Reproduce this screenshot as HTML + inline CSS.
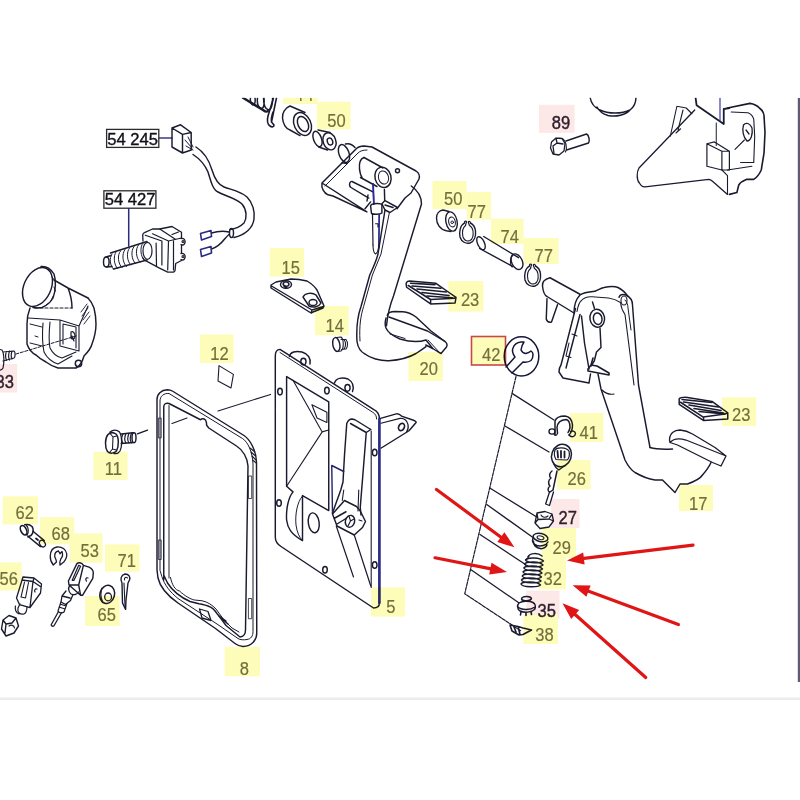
<!DOCTYPE html>
<html><head><meta charset="utf-8"><style>
html,body{margin:0;padding:0;background:#fff;width:800px;height:800px;overflow:hidden}
svg{display:block}
text{font-family:"Liberation Sans",sans-serif;font-size:19px}
</style></head><body>
<svg width="800" height="800" viewBox="0 0 800 800">
<rect width="800" height="800" fill="#fff"/>
<g fill="none" stroke="#1b1b30" stroke-width="1.45" stroke-linejoin="round" stroke-linecap="round">
<!-- connector 54 245 -->
<line x1="159" y1="138" x2="172" y2="138" stroke="#3a3a8a" stroke-width="1.5"/>
<path d="M172,128 L182.5,134.4 L182.5,153 L172,147 Z M172,128 L180.6,124.8 L191.2,132.5 L182.5,134.4 M191.2,132.5 L191.2,150 L182.5,153"/>
<path d="M185,140 L192,148 M186,146 L193,150 M188,137 L193,147" stroke-width="1"/>
<!-- cable -->
<path d="M196,147 C204,152 209,160 212,170 C215,180 219,185 224,187 C232,190 240,191 247,197 C253,203 255,212 254,219 C253,228 245,235 234,237.5"/>
<path d="M193,154.5 C200,159 205,165 208,172 C211,182 213,190 218,192 C225,196 236,198 242,204 C247,210 247,218 244,223 C240,227 234,229 230,229.5"/>
<ellipse cx="231.5" cy="233" rx="2" ry="4.5"/>
<path d="M229,232 C224,231 220,230.5 211.5,233 M229,234.5 C224,238 222,246 211.5,249" stroke-width="1.5"/>
<path d="M200.5,233.5 L211,230.5 L211.5,236.5 L201.5,240 Z M200.5,249.5 L211,246.5 L211.5,253 L201.5,256.5 Z" stroke="#2a2a80" stroke-width="1.6"/>
<!-- switch 54 427 -->
<line x1="128.7" y1="208" x2="128.7" y2="246" stroke="#2a2a80" stroke-width="1.5"/>
<ellipse cx="106.3" cy="262" rx="2.8" ry="5"/>
<path d="M106,257 L111,255.5 M106.5,267 L112,266.5 M110.5,253 L147,241.5 M113.5,269 L147,260"/>
<path d="M112,254 C109,258 110,266 113.5,269 M116,252 C113,256 114,265 117.5,268.5 M120.5,251 C117,255 118,264 122,267.5 M125,249.5 C121.5,254 122.5,263 126.5,266.5 M129.5,248 C126,252 127,262 131,265 M134,246.5 C130.5,251 131.5,260 135.5,263.5 M138.5,245 C135,249 136,258.5 140,262 M143,243 C139.5,247 140.5,257 144.5,260.5" stroke-width="1"/>
<path d="M143,241 L142.7,235 C143,233.5 143.5,233 144.5,232.7 L152.5,229 L159.75,229 L172,226.5 L181.5,232.3 L181.5,238 M181.5,245 L181.5,253 M181.5,260.5 L175.7,263.5 L175,270.8 L173.5,272.2 L167.7,272.2 L159,267.9 L144.2,259.9 L143,258" stroke-width="1.3"/>
<path d="M145.25,235.2 L161.9,241 L161.9,265 M156.1,243.2 L156.5,266 M152.5,233.8 L168.5,241 L167.7,270 M168.5,241 L175,239.5 L181.5,238 M159.75,229 L175,239 M172,234.5 L178.5,232 M173.5,241 L173.5,270" stroke-width="1.2"/>
<ellipse cx="147.5" cy="250.8" rx="4.5" ry="8.5" stroke-width="1.2"/>
<path d="M181,238.5 C184,238 185.5,240 185,242.5 C184.5,245 182.5,245.5 181,244.5 M181,253.5 C184,253 185.5,255 185,257.5 C184.5,260 182.5,260.5 181,259.5" stroke-width="1.3"/>
<circle cx="183" cy="241.5" r="1" stroke-width="1.1"/><circle cx="183" cy="256.5" r="1" stroke-width="1.1"/>
<!-- reservoir -->
<ellipse cx="37.5" cy="287" rx="13.5" ry="20.5" transform="rotate(25 37.5 287)"/>
<path d="M41,266.5 C46,266 51,269 54,274 C56,280 56,290 53,298 C50,303 46,306 42,307.5 C39,308 35,308 33,307.5"/>
<path d="M46,268 L50,271.5 M52,277 L55,281 M54,287 L55.5,291 M53,296.5 L51,300.5 M48,303.5 L45,306" stroke-width="1"/>
<path d="M54,280 L68,288 L88,298 M68,288 C70,293 72,300 72,308"/>
<path d="M35,308 L72,308" stroke-dasharray="3 2" stroke-width="1.2"/>
<path d="M30,308 C28,313 27,318 27,324 L27,344 C29,350 32,353 36,355 C39,358 42,360 46,362 C50,365 54,367 58,368 L76,368 C80,366 82,363 84,356 C88,352 91,348 92,344 C95,336 96,330 96,324 C96,317 95,312 94,308 C92,303 90,300 88,298"/>
<path d="M28,318 L60,320 L79,326 L88,306 M79,326 L79,351 M60,320 L60,346 L79,351 M63,324 L63,344 M76,327 L76,348 M63,324 L76,327" stroke-width="1.1"/>
<path d="M43,323 C42,335 43,347 44,352 C47,358 52,362 58,364 M50,322 C49,332 49,343 50,348 C53,354 57,357 62,358 M58,364 L72,356 M62,358 L76,352" stroke-width="1.1"/>
<path d="M30,324 L42,327 M35,336 L38,337 M30,343 L42,346" stroke-width="1"/>
<path d="M81,312 L87,304 M82,316 L88,308 M83,320 L89,312 M84,324 L90,316" stroke-width="0.9"/>
<path d="M71,332 C73,331 75,333 75,336 C75,339 73,340 71,338 Z M72,336 L74,341" stroke-width="1.2"/>
<circle cx="78.5" cy="363.5" r="3.2"/>
<path d="M16,354 L76,336" stroke-dasharray="3 1.6" stroke-width="1"/>
<path d="M-2,349 L2,350 C4,353 4.5,362 3,368 C2,370 0,370.5 -2,370 M3,352 L14,351 C15.5,352 15.5,357 14,358 L3,361 M6.5,351.5 C5.5,354 5.5,358 6.5,360.5 M9.5,351 C8.5,354 8.5,358 9.5,360 M12,351 C11,354 11,357 12,359" stroke-width="1.2"/>
<!-- clutch pedal plate -->
<path d="M322,183 L356,149 C358,147 361,146 364,146 L372,147 L416,171 C419,173 420,176 419,179 L411,193 L405,198 L397,208.7 M366.9,211.9 L333,196 L328,194.8 C324,193 321,188 322,183 Z"/>
<path d="M325,186 L358,153 C360,151 363,150 367,150" stroke-width="1"/>
<ellipse cx="344" cy="153.5" rx="5" ry="9.3" transform="rotate(-20 344 153.5)"/>
<path d="M345.5,144 C349,143 352,144 355,147.5 M342,162.8 L347,163.5"/>
<!-- pivot tube -->
<path d="M364,157.5 C360,159 359,164 359.5,169 C360,173 361,176 362,177.5"/>
<path d="M364,157.5 L383,168 M360.5,177.5 L377,186.5"/>
<ellipse cx="383" cy="177.3" rx="8" ry="10.3" transform="rotate(-15 383 177.3)"/>
<ellipse cx="383.5" cy="177.5" rx="5" ry="6.7" transform="rotate(-15 383.5 177.5)" stroke-width="1"/>
<circle cx="397.5" cy="170.8" r="2"/>
<!-- slot lever -->
<path d="M351,181.5 C349,183 349,186 351,187.5 L368.75,198.1 M352,181.5 L373,191.9 M365,208.75 L370.6,201.9 M367,201 L368,195"/>
<!-- hub / clevis / rod -->
<path d="M373,183.75 L373.75,203.75 M384.4,189.4 L384.7,200.6"/>
<path d="M373.2,184 L373.9,204" stroke="#2a2aa8" stroke-width="1.6"/>
<path d="M370.6,206 C371,204 374,203.5 377,203.5 C380,203.5 381.5,203.7 381.9,205 L381.9,213 C380,214.5 374,214.8 371.5,213.5 Z"/>
<path d="M372.5,214.4 L373,245 M379.4,214.4 L378.75,245 M375.6,223.75 L378,223.75 L378,227" stroke-width="1.2"/>
<path d="M379,214.5 L379,248" stroke="#2a2aa8" stroke-width="1.3"/>
<path d="M381.9,203.75 L385,200.6 L397.5,207.5 L390,212.5 L385,210 Z M385,205 L393,207.5"/>
<!-- pedal arm -->
<path d="M411.3,186 C417,190 421.5,196 421.5,204 L393.5,296 C390,305 387.5,315 386.5,325.7"/>
<path d="M385,210 L378,254 C376,262 372,270 369.75,275 L361,306.5 C358,315 356,325 357,341.5 C358,348 361,352 365,354 C370,358 380,361 389,360.7 C400,360 410,357 416,353.5 C420,351 423,349 426,346.7"/>
<path d="M389.4,212.5 L381,254 L372.4,275 L363.6,306.5 C361,315 359,325 360,341" stroke-width="1"/>
<path d="M373,245 C373,250 374,253 375.5,254 M378.75,245 C378.5,250 377.5,253 375.5,254" stroke-width="1.1"/>
<!-- pad 20 -->
<path d="M387.25,315.25 C388,313 391,311.5 395,311.5 L403,311.7 C408,312 412,314 416,317 L431,331 L445,341.5 C447,343 447.5,345 446.5,347 L441,353.5 C438,352 435,350 432.75,348.5 L425.75,345"/>
<path d="M389,317 L427.5,331 L445,341.5 M386,318 C385,322 385,326 386,328 C388,333 393,336 400,339 C410,342 420,342 426,340 L432.75,348.5" />
<path d="M390,334 L405,338.5 M428,340 L440,353" stroke-width="1"/>
<!-- pad 23 left -->
<path d="M406.6,282.4 C407,281.6 408,281.1 409.6,281.1 L435.9,283.3 L449,292.5 L456,297.3 L455.1,303 L430.6,303.9 L406.6,287.25 L406.1,283.75 Z M408.3,285.5 L430.6,299.5 L454.7,298.2 M430.6,299.5 L430.6,303.9" stroke-width="1.5"/>
<path d="M410.5,283.3 L435,284.6 M412,286 L441,288.2 M417,289 L446.4,292 M422,292.5 L449,295.5 M427,296 L452.5,297.8" stroke-width="1.6"/>
<!-- spring fragment -->
<path d="M243,97.8 L263,110 C265,111.5 267,112 268,111" stroke-width="2.4"/>
<path d="M250.5,97.8 C250,101 251,104 253,105 C255,105 255.5,101 255,97.8 M257.5,97.8 C257,102 258,107 261,108.5 C264,109 264.5,103 264,97.8 M263.5,97.8 C263.5,103 265,109 268.5,110 C271,110 273,104 272.5,97.8" stroke-width="1.5"/>
<path d="M273.5,97.8 L268,116 C267,120 267,124 270,126 C272,127.5 274,127 274,125 L271.5,122 L276.5,97.8 M271.5,122 C271,119 272,115 273,112" stroke-width="1.6"/>
<!-- large bushing -->
<path d="M290,106 C285,108 282,113 282.5,118 C283,124 286,129 290,130 L300,135.6 M290,106 L305,112.5"/>
<ellipse cx="302.5" cy="124" rx="8.3" ry="12" transform="rotate(-25 302.5 124)"/>
<ellipse cx="303" cy="124" rx="5" ry="8" transform="rotate(-25 303 124)"/>
<!-- small bushing -->
<ellipse cx="317.5" cy="139" rx="4" ry="8" transform="rotate(-20 317.5 139)"/>
<path d="M318,130 L330,132.5 M318.7,147 L327.5,150"/>
<ellipse cx="329.5" cy="141.3" rx="6.3" ry="8.8" transform="rotate(-20 329.5 141.3)"/>
<ellipse cx="330" cy="141.5" rx="2.6" ry="3.6" transform="rotate(-20 330 141.5)"/>
<!-- top label digits remnants -->
<path d="M300.8,98 L300.8,101 M310.9,98 L310.9,101" stroke="#77703f" stroke-width="1.5" stroke-linecap="butt"/>
<!-- plate 15 -->
<path d="M271,285 L276,282 L291,279 C298,279 303,280 307,281 C312,284 315,287 317,290 L324,306 L323,308 L313,312 L311,313 L271,288 Z M271.5,286 L312,310 L323.5,306.5 M311.5,311 L311.5,313"/>
<ellipse cx="286" cy="284.5" rx="5.5" ry="3.8"/>
<path d="M283,284 C284,281 288,281 289,284 C289,287 284,287 283,284 M284,286.5 L287,288" stroke-width="1.5"/>
<path d="M303,297 C305,293 312,292 316,295 L321,303 C319,307 313,308 309,306 Z"/>
<ellipse cx="313" cy="302.5" rx="4" ry="3"/>
<!-- 12 square -->
<path d="M219,365.6 L233.4,374.4 L231,388 L218,381 Z" stroke-width="1.1"/>
<!-- bolt 14 -->
<ellipse cx="336.3" cy="344.5" rx="3.5" ry="7" transform="rotate(-10 336.3 344.5)"/>
<path d="M336.5,337.5 L341,337 M337,351.5 L341,351 M341,337 C344,339 344,349 341,351 M341,339.5 L346,339.5 C348,342 348,347 346,349 L341.5,349.5 M344,339.5 C346,342 346,347 344,349" stroke-width="1.1"/>
<!-- plate 5 -->
<path d="M275.3,356 C275.3,352 277,349.5 280,349.4 L373.5,409.4 C377,411 379.4,415 379.4,419 L379.4,603 C379.4,606 377,608 373.5,608 L281,546.5 C277,544 275.3,541 275.3,537 Z"/>
<path d="M280,352.5 L372.8,412.3 C375.5,414 376.6,416 376.6,419" stroke-width="1"/>
<path d="M379.4,419 L379.4,603" stroke="#2a2a8a" stroke-width="2.6"/>
<path d="M371.2,431 L371.2,587.5" stroke-width="1.1"/>
<!-- ears -->
<path d="M289.5,356.5 C290,352 296,350.5 302,352 C308,354 311,358 310,364 M334.5,383 C336,378 342,377 348,379 C353,382 354,387 352.5,391.5"/>
<ellipse cx="303.4" cy="361.6" rx="2.6" ry="3.4"/><ellipse cx="347.5" cy="387.8" rx="2.6" ry="3.4"/>
<!-- holes -->
<ellipse cx="280" cy="391.6" rx="2.3" ry="3.3"/><ellipse cx="326.9" cy="390.6" rx="2.3" ry="3.3"/>
<ellipse cx="374.7" cy="452.5" rx="2.3" ry="3.3"/><ellipse cx="279" cy="503" rx="2.3" ry="3.3"/>
<ellipse cx="325" cy="569.7" rx="2.3" ry="3.3"/><ellipse cx="374.7" cy="565" rx="2.3" ry="3.3"/>
<!-- pocket -->
<path d="M286.6,376.6 L328.75,401.9 L328.75,510.6 L302.5,495.6 M286.6,376.6 L286.6,486.25 L293,491.9 C288,498 286,510 286.6,520 C287.5,528 291,534 302.5,540.6 L302.5,495.6"/>
<path d="M302.5,496 C297,502 295,515 296,525 C297,532 299,537 302.5,540.6" stroke-width="1"/>
<path d="M293,380.3 L322.2,431.9 L286.6,486.25 M322.2,431.9 L328.75,430" stroke-width="1.1"/>
<path d="M311.9,404.7 L326.9,412.2 L326.9,422.5 L317,418 Z" stroke-width="1.1"/>
<ellipse cx="313.75" cy="522.8" rx="5.4" ry="10" transform="rotate(-8 313.75 522.8)"/>
<!-- lever -->
<path d="M346.75,423.5 C348,420.5 350,419 352,419 L355,419.75 L370.75,429.5 M350.5,423.5 L366.25,432.5 L370.75,429.5 M346.75,423.5 L344.5,455 L343,482 L340.75,490 L332.5,513 M366.25,432.5 L360.25,507.5 L361,515"/>
<path d="M331.75,465.5 L332.5,513.5 M331.75,465.5 L343.75,471.5" stroke="#22226a" stroke-width="1.4"/>
<path d="M343.75,490 L342.25,500.5 M358.75,490 L358,511" stroke-width="1.1"/>
<path d="M332.5,514 L344.5,500.5 L356.5,506.5 L360.25,511 L365.5,521.5 L362.5,527.5 L354.25,535 L337,526 Z M334,518.5 L346,511.75 M337,524 L346,518.5"/>
<ellipse cx="350" cy="521.3" rx="4.6" ry="6" transform="rotate(15 350 521.3)"/>
<path d="M349,516 L350.5,521 L354,519 M350.5,521 L348,526 M359,520 L362,521" stroke-width="1.1"/>
<path d="M336.25,526 L353.5,577 M354.25,535 L370.75,586" stroke-width="1.2"/>
<!-- side bracket -->
<path d="M380.5,418.4 L396.25,413.9 C398,413.5 399.5,414 401.5,416.1 L413.5,420.25 C415.5,421 416.5,422 416.1,422.5 L409,430.75 L381.25,448"/>
<path d="M380.9,423.25 L400,418.4 C404,418 407,420.5 408,424.5 C408.5,427 408,430 406.5,432" stroke-width="1.2"/>
<ellipse cx="401.5" cy="427" rx="2.8" ry="3.8" transform="rotate(25 401.5 427)" stroke-width="1.7"/>
<!-- leader gasket to plate -->
<path d="M218,411 L270.6,394.4" stroke-width="1.1"/>
<!-- gasket 8 -->
<path d="M157,570 L157,399.5 C157,394 161,390 167.5,389.75 C169,389.75 171,390.2 172.75,391.25 L244,435.5 C250,439.5 256,450 256.5,462 L256.75,633 C256.75,640 252,646 243,646.5 C240,646.5 237,645 235,643.5 L215.5,628.5 L178,603 C168,596 160,587 158,578 Z"/>
<path d="M160,570 L160,401 C160,396 164,393 169,393.5 L242.5,438.5 C248,442 252.5,452 253,464 L253,631.5 C253,636 251,639 247,639.5 C244,640 240,640 238,638.5 L217,624 L178,598.5 C170,592 164.5,585 162,577 Z" stroke-width="1"/>
<path d="M163.75,580 L163.75,407 C163.75,404 166,402.5 169,403.5 L200.5,419.75 C202,418.5 204,418.7 205.5,420 C206.5,422 206.7,424 206.5,425 L208.75,428 L236.5,446 C243,450 247.5,458 248,466 L245.5,630 C245.5,634 244,636.5 240,637 L226,625.5 C222,620 219,616 217,613.5 C214,609 211,607 208,606 C205,605 202,604 199,603.75 L190,601.5 C180,597 172,590 167.5,583 L163.75,575"/>
<path d="M169,578 L169,405.5 M170.5,577.5 C172,585 175,590 179.5,591 C185,596 190,599 194.5,600 L202,600.75 C208,602 212,605 216,609 L224,620 L232,628 L239,632" stroke-width="1"/>
<path d="M158.8,418 L161.2,418 L161.2,438 L158.8,438 Z M158.8,540 L161.2,540 L161.2,559.5 L158.8,559.5 Z M248.8,476 L251.7,476 L251.7,498.5 L248.8,498.5 Z M248.8,598.5 L251.7,598.5 L251.7,618.75 L248.8,618.75 Z" stroke-width="0.8"/>
<path d="M250,448 L255,452 M251,452 L255.5,456 M252,456 L256,460 M252.5,460 L256.3,463" stroke-width="1.1"/>
<path d="M199.5,609 L208,611.5 L211,620.5 L202,618 Z" stroke-width="1.3"/>
<path d="M219,616 L226,621 M222,619 L228,624" stroke-width="1.5"/>
<path d="M172,423.5 L187,418" stroke-width="1.2"/>
<!-- bolt 11 -->
<path d="M108,434.5 C105,438 104.5,447 107.5,451.5 C110,454 114,453.5 116.5,451 C119,446 119,437 116,434 C113,432 110,432.5 108,434.5 Z" stroke-width="1.5"/>
<path d="M110.5,434 L113,437 L112.5,449 L110,452 M113,437 L116.5,436 M112.5,449 L116.5,450" stroke-width="1.1"/>
<path d="M110,432 C113,429.5 117,429.5 119.5,432 C122,436 122.5,446 120,451 C118.5,453.5 116,454 114,453.5" stroke-width="1.3"/>
<path d="M121.3,434 L133,432.8 M121.3,443.5 L133,442.5"/>
<ellipse cx="134" cy="437.7" rx="2" ry="5"/>
<path d="M123,434 C121.5,437 121.5,441 123,443.5 M126,433.6 C124.5,437 124.5,441 126,443.2 M129,433.3 C127.5,437 127.5,441 129,443 M131.5,433 C130,437 130,441 131.5,442.8" stroke-width="1.2"/>
<path d="M137.4,433.9 L147.5,430.1" stroke-width="1.4"/>
<!-- pin 62 -->
<ellipse cx="23.6" cy="530.2" rx="2.8" ry="5" transform="rotate(-25 23.6 530.2)" stroke-width="1.6"/>
<path d="M24.75,524.8 C27,524.2 30,524.5 32,526.5 C34,529 33.5,533 31,535.5 L28,536.8" stroke-width="1.6"/>
<path d="M26.5,525.5 C28.5,527.5 29,532 27,535.5" stroke-width="1.2"/>
<path d="M33,531.25 L44.25,540.6 M28.1,536.5 L40.5,546.6" stroke-width="1.4"/>
<ellipse cx="42.4" cy="543.6" rx="2.6" ry="3.6" transform="rotate(-35 42.4 543.6)" stroke-width="1.3"/>
<path d="M36,538.5 L38,540" stroke-width="1.8"/>
<!-- clip 68 -->
<path d="M53.25,565 C51,562 50,559 50.25,556 C50.5,551 53,547.5 57,547 C62,546.5 66,549.5 66.75,553.75 C67,557 65.5,560 63.75,562 L60,565 C59.5,562.5 60,560.5 60.75,559 C62.5,557 63,554 62,551.5 L60,553.75 L58.5,551 C56,551.5 54.5,554 54.75,556.75 C55.5,558.5 56.5,560 56.5,562 Z" stroke-width="1.3"/>
<!-- clevis 53 -->
<path d="M68.4,581 L76.9,563.6 C78,562.8 80.5,562.8 82,563.6 L83.4,565.3 L89,567.2 C91.5,568.5 93.3,570.5 93.3,572.8 L92.8,578.4 L82.5,595.3 L80.6,595.3 L69,585 Z M83.4,565.3 L78.7,585 L80.6,595.3 M69,585 L78.7,585" stroke-width="1.4"/>
<path d="M72.2,580.3 L78.7,565.3 L80.6,566.2 L74,580.3 Z" stroke-width="1.2"/>
<path d="M88,578 C86,577 85,579.5 86.5,581" stroke-width="1.2"/>
<path d="M69.5,586 C68,588 68.5,592 71,594 C73.5,595.5 77,594.5 78.5,592" stroke-width="1.3"/>
<path d="M66,591 L62,596 L61,602 L65.5,604.5 L70.5,600.5 L73,594.5 M62,596 L70,598" stroke-width="1.3"/>
<path d="M61,602 L58,611 C59,613 62,613.5 64,612 L67,603.5 M59,607 L65,609 M60,604 L66,606" stroke-width="1.2"/>
<path d="M58.5,611.5 L51.2,624.8 C51.5,626.3 53,626.6 54,625.8 L61.5,612.8" stroke-width="1.3"/>
<!-- clevis 56 -->
<path d="M23,577 L34,578 L41.5,584 L40.5,593 L30,607.5 L19.5,604.5 L16.5,598 Z M23,577 L22,580 L33,581.5 L34,578 M33,581.5 L41,587 M33,581.5 L30,607" stroke-width="1.3"/>
<path d="M24.5,582 L21,597 M28.5,582.5 L25.5,598 M21,597 L25.5,598" stroke-width="1.1"/>
<path d="M37,589 C35,588.5 34,590.5 35,592" stroke-width="1.2"/>
<path d="M20,604 L18,608 C17,612 20,615 24,614 C26,613 27,611 27,606.5 M15.5,606 C14.5,609 16,613 19,614" stroke-width="1.2"/>
<!-- nut -->
<path d="M3,620 L9,615.5 L16,618 L18.5,626 L14,633 L6,636 L1.5,629 Z M3,620 L6,624 L12,623 L16,618 M6,624 L5,633" stroke-width="1.4"/>
<path d="M9,626 C11,624.5 14,625 14.5,628" stroke-width="1.2"/>
<!-- washer 65 -->
<ellipse cx="107.2" cy="594.4" rx="7.3" ry="9.2" transform="rotate(15 107.2 594.4)" stroke-width="1.5"/>
<ellipse cx="108.1" cy="596.9" rx="3.4" ry="3.9" stroke-width="1.3"/>
<path d="M102,588 C100.5,592 100.5,598 102.5,601" stroke-width="1.1"/>
<!-- cotter 71 -->
<path d="M122,583 C120,579 121,575 125,574 C129,574 130.5,577 129.5,580 L128,583 L126,600 L125.6,609.4 L122.5,603 L122,583 Z" stroke-width="1.4"/>
<path d="M124.5,580 C124,577.5 126,576.5 127.5,578 M124,583 L125,606" stroke-width="1.1"/>
<!-- bushing 50 right -->
<path d="M449,211.5 L443,210 C439,210.5 436.5,214 436.5,218 C436.5,224 440,229.5 446.3,230.8 L451,231.5" stroke-width="1.4"/>
<ellipse cx="451.5" cy="221.5" rx="5.6" ry="9.8" transform="rotate(-12 451.5 221.5)" stroke-width="1.4"/>
<ellipse cx="452" cy="222" rx="3.3" ry="5" transform="rotate(-12 452 222)" stroke-width="1.1"/>
<circle cx="452.2" cy="222.3" r="1.3" stroke-width="1"/>
<!-- clip 77 -->
<path d="M464.5,223 C460,225.5 459,232 460,237 C461.5,242 466,244 470,243 C474.5,241.5 476,236 475.5,231 C475,227 473.5,224.5 470.5,223" stroke-width="1.4"/>
<path d="M465.5,225.5 C462.5,228 462,233 463,237 C464.5,240.5 467.5,241.5 470,240.5 C473,239 473.5,235 473,231 C472.5,228 471.5,226.5 469.5,225.5" stroke-width="1.1"/>
<path d="M464.5,223 C464,221.5 465.5,220.5 466.5,221.5 L465.5,225.5 M470.5,223 C470.5,221.5 469,220.8 468.2,222 L469.5,225.5" stroke-width="1.2"/>
<!-- pin 74 -->
<ellipse cx="481" cy="243.3" rx="3.4" ry="7" transform="rotate(-25 481 243.3)" stroke-width="1.4"/>
<path d="M483.7,236.5 L518.6,257.7 M479.6,248.5 L513,266.6" stroke-width="1.4"/>
<ellipse cx="517" cy="261.7" rx="5.3" ry="8.3" transform="rotate(-25 517 261.7)" stroke-width="1.4"/>
<path d="M513.5,254.5 C510,257 509.5,264 512,267" stroke-width="1.1"/>
<!-- clip 77 b -->
<path d="M529.5,266 C525,268.5 524,275 525,280 C526.5,285 531,287 535,286 C539.5,284.5 541,279 540.5,274 C540,270 538.5,267.5 535.5,266" stroke-width="1.4"/>
<path d="M530.5,268.5 C527.5,271 527,276 528,280 C529.5,283.5 532.5,284.5 535,283.5 C538,282 538.5,278 538,274 C537.5,271 536.5,269.5 534.5,268.5" stroke-width="1.1"/>
<path d="M529.5,266 C529,264.5 530.5,263.5 531.5,264.5 L530.5,268.5 M535.5,266 C535.5,264.5 534,263.8 533.2,265 L534.5,268.5" stroke-width="1.2"/>
<!-- bolt 89 -->
<path d="M551.5,142 L556,138 L562,138.5 L565,143.5 L564,151 L559,155 L553,154 L550.5,148 Z M556,138 L557,143 L553,146 M557,143 L563,144 M553,146 L554,153.5" stroke-width="1.3"/>
<path d="M562,138.5 C566,140 567.5,148 565.5,152" stroke-width="1.1"/>
<path d="M566,141 L586.5,134 M566.5,150 L588.5,143 M586.5,134 C589,135 590,141 588.5,143"/>
<!-- bowl -->
<path d="M590,97 C591,103 595,108 600,110 C608,114 622,114 630,110 C634,107 636,102 636,97 M597,107 C599,111 603,114 608,115.5 C616,117 626,115 630,110"/>
<!-- brake pedal pivot tube -->
<path d="M550,277.75 L580,294.25 M547,296.5 L574,313 M550,277.75 C545,279 542,282 542.5,286 C543,291 544,295 547,296.5" />
<path d="M547,298.75 L546.25,319 C547,322 549,322.5 551.5,322 L557.5,304.75"/>
<!-- housing -->
<path d="M574,313 C574,307 575,300 580,295 C583,292.5 588,292 595,291.25 C598,290 601,288 604,287.5 C609,286.5 614,286 618,287.5 C621,289 625,292 628,296.5"/>
<path d="M577,311.5 C578,306 579,302 581.5,300.5 C584,297.5 587,296.5 592,296.8 L608.5,298 C612,298.5 616,299.5 620.5,302.5" stroke-width="1.1"/>
<path d="M575.5,308.5 L561,365 M580,314.5 L566,368 M561,365 C559.5,367 559,370 559,372 L563,378 L589,383 L590.5,374"/>
<path d="M572,334 L577,336 M566,356 L571,357.5 M569,343 L566,356" stroke-width="1.1"/>
<path d="M581.5,316 L584.5,343 C586,352 587.5,360 589,369"/>
<path d="M592.5,302 L594.5,308.5 M600,328 L601,347.5 L596.5,352 L594.25,361 L591,366"/>
<path d="M588,369 L591,365 L597,366 L609,373 L609,375 L588,371 Z M591,365 L593,358" stroke-width="1.6"/>
<ellipse cx="597.25" cy="318.25" rx="7.3" ry="9" transform="rotate(-10 597.25 318.25)"/>
<ellipse cx="597.7" cy="318.7" rx="4.3" ry="5.8" transform="rotate(-10 597.7 318.7)"/>
<!-- arm right part -->
<path d="M619,297.25 C620,294.5 623,294 626,295 C630,297 632.5,300 632.5,305 L638.5,385 L650,447.5"/>
<path d="M620.5,302.5 C621,307 622.5,311 625,314.5 L634,385" stroke-width="1.1"/>
<path d="M625,300 C627,302 628,305 628,308 L631,330" stroke-width="1"/>
<ellipse cx="624" cy="300.5" rx="3" ry="4.5" stroke-width="1.1"/>
<!-- arm lower -->

<path d="M598,374 L601,389 L625,460 C628,466 631,470 635,472.5 C641,476 648,479 655,480 L662.5,480 L675,492.5 L680,484 L687.5,484 C693,482 700,479 702.5,475 C706,471 709,467 711,462.5"/>
<path d="M602,390 C605,393 609,395 614,394" stroke-width="1.2"/>
<path d="M650,447.5 C655,449 662,449.5 672.5,449"/>
<!-- pad 17 -->
<path d="M672.5,432.5 C675,430.5 677,430 680,430 C685,430.5 689,432 692.5,434 L715,447.5 L726,456 L721,466 L712.5,462.5 L677.5,445 L670,442.5 C669,439 670,435 672.5,432.5 Z M670,442.5 C673,439 679,438 686,440 L726,456" stroke-width="1.3"/>
<!-- pad 23 right -->
<path d="M679.2,398.75 C680,397.8 684,397.2 687.5,397.4 L712,401.4 L721.6,408.4 L727.75,412.75 L727.75,418.9 L703.7,420.6 L679.2,404.4 Z M680.5,402.25 L703.25,417.1 L725,414 L727.75,412.75 M703.5,417.1 L703.7,420.6" stroke-width="1.5"/>
<path d="M682,399.5 L712,402.5 M683.5,402 L718.5,407 M689,405 L721,410.5 M694,408.5 L723.5,413 M699,411.5 L724.5,414" stroke-width="1.6"/>
<!-- top right bracket -->
<path d="M694.7,110 L639,168 C636.5,172 636.5,180 639.4,183 C641,186 643,187 645,186.9 L708.75,179.4 C710,179.4 711,180 712.5,181.25 L727.5,194.4" stroke-width="1.3"/>
<path d="M676.9,106.25 L686.25,108 L691.9,113.75 M676.9,106.25 L670.3,136.25 M683,110 L678,130 M680.6,128.75 L676,133" stroke-width="1.1"/>
<path d="M695.6,97.8 L696.6,105.3 L723.75,124 L723.75,109 L729.4,108.1" stroke-width="1.8"/>
<path d="M720,97.8 L720,121.25" stroke="#2a2aa0" stroke-width="1.1"/>
<path d="M716.25,123 L716.25,145.6" stroke-width="1"/>
<path d="M727.5,108 L750,103.4 C754,104 757,105.5 759.4,108 C762,110 764,113 764,115.6 L765,132.5 L764,153.1 L761.25,170 C759,175 756,178 753.75,179.4 L746.25,179.4 C742,181 740,183 738.75,185 L736.9,192.5 L729.4,194.4" stroke-width="1.6"/>
<path d="M731.25,112 L748,112.8 C751,114 753,116 753.75,119.4 L754.7,136.25 L753.75,162.5 L740.6,162.5" stroke-width="1.1"/>
<path d="M706.9,143.75 L706.9,166.25 L721.9,170 L729.4,170 L729.4,151.25 L714.4,141.9 L706.9,143.75 M721.9,151.25 L729.4,151.25 M721.9,151.25 L721.9,170 M706.9,143.75 L721.9,151.25" stroke-width="1.2"/>
<path d="M743.5,125 C742,130 743,137 747,141 C751,141 753,134 752,128 C750,123 746,122 743.5,125 Z M746,130 L749,134" stroke-width="1.3"/>
<path d="M735,149.4 L744.4,140 M727.5,170 L751.9,166.25 M721.9,170 L727.5,175.6 L727.5,194.4" stroke-width="1.1"/>
<!-- wrench circle -->
<ellipse cx="521.5" cy="356.3" rx="17.3" ry="19.6" stroke="#15153a" stroke-width="1.5"/>
<path d="M506,367 L515,357 C512.5,354 512,350 513,348 C514,345 517,342.5 521,342 L524,342 C522.5,344 521.5,347 521,350 C522,352 524,353.5 526,353.5 C528,353 530,352 531,351 C532.5,352 533,353 533,354.5 C533,357 532.5,359 531,360.5 C529,362 527,362.5 523,362 L512,373" stroke="#15153a" stroke-width="1.5"/>
<!-- leader lines -->
<path d="M516,376.5 L464.75,593.75 L521,631" stroke-width="1.2" stroke-dasharray="3.5 1.2"/>
<path d="M512.4,393.6 L554,420 M505,426 L549,452 M489.75,488 L536.75,517 M486.75,504.5 L533,537.5 M480,534.5 L525.5,564.5 M471,569.75 L518.75,602.75" stroke-width="1.3"/>
<!-- clip 41 -->
<path d="M555,435 L555,421 C556,418 560,416 565,416 C569,416.5 572,420 572.5,425 C572.5,429 571,433 569,435 M557.5,433 L557,427.5 C557.5,423 561,420 566,419.6 C568.5,420 570,423.5 570,427.5 C569.5,430 568.5,432 568,432.5" stroke-width="1.5"/>
<ellipse cx="552" cy="431.5" rx="3" ry="2.6" stroke-width="1.4"/>
<path d="M554,434 C555,436 557,436 557.5,433 M569,435 C571,437.5 575,437.5 575.5,433.5 C575,431 572,430.5 570.5,431.5" stroke-width="1.3"/>
<!-- eye bolt 26 -->
<ellipse cx="561.5" cy="455.5" rx="9.8" ry="11.5" transform="rotate(20 561.5 455.5)" stroke-width="1.5"/>
<path d="M555,450 C557,447 566,447 569,451 C570,455 569,459 567,460 L556,459.5 C554.5,457 554,453 555,450 Z" stroke-width="1.2"/>
<path d="M557.5,451 L558,457.5 M561,451 L561,457.5 M564.5,451.5 L564.5,457.5" stroke-width="1.8"/>
<path d="M553.75,464 C555,467 557,469 558.75,470 L565,465.5" stroke-width="1.3"/>
<path d="M552,471 C549,473 549,477 551,478 M551,478 C548,480 548,484 550,486 M550,486 C547.5,488 547.5,491 549.5,492 M557,471 L553,490 M553,490 L550,492" stroke-width="1.5"/>
<path d="M549.5,492 L545.6,504 L549.5,505.5 L553.5,492" stroke-width="1.3"/>
<!-- nut 27 -->
<path d="M537,513 L545,511.5 L552,514 L553.5,521 L549,527 L540,528.5 L535,523 Z M535,523 L538,519.5 L549,519 L553.5,521 M538,519.5 L537,513 M549,519 L552,514" stroke-width="1.3"/>
<path d="M541,515 C542,517.5 546,518 548,516" stroke-width="1.1"/>
<!-- washer 29 -->
<ellipse cx="540.5" cy="537.5" rx="7.5" ry="4" transform="rotate(12 540.5 537.5)" stroke-width="1.5"/>
<path d="M533,538 C532,541 533,544 537,545.5 C541,546.5 546,545.5 548,542 M533.5,541.5 C533,545 536,548 541,548.7 C544,548.5 546,547 547,545" stroke-width="1.5"/>
<ellipse cx="540.5" cy="537.7" rx="3.5" ry="1.8" transform="rotate(12 540.5 537.7)" stroke-width="1.1"/>
<!-- spring 32 -->
<path d="M528,556.5 C530,553 538,552.5 542,556 M529,556 C528,558 527,559 526,560" stroke-width="1.5"/>
<path d="M525.5,560 C528,557 540,557.5 543.5,561 C541,563.5 528,563.5 525.5,560 M524.5,564 C527,561 540,561.5 543,565 C540.5,567.5 527,567.5 524.5,564 M523.8,568 C526,565 539.5,565.5 542.5,569 C540,571.5 526,571.5 523.8,568 M523,572 C525,569 539,569.5 542,573 C539.5,575.5 525,575.5 523,572 M522.2,576 C524,573 538.5,573.5 541.5,577 C539,579.5 524,579.5 522.2,576 M521.5,580 C523,577 538,577.5 541,581 C538.5,583.5 523,583.5 521.5,580 M521,584 C522.5,581 537.5,581.5 540.5,585 C538,587.5 522.5,587.5 521,584" stroke-width="1.4"/>
<!-- part 35 -->
<path d="M521.5,599 C522,596 530,595.5 531.5,598.5 C531,601 522,601.5 521.5,599 Z" stroke-width="1.4"/>
<path d="M519,603 C517,605 517,609 520,611 C524,613 531,612.5 534.5,609.5 C536,607 535.5,604 533,602.5 C529,600.5 522,601 519,603 Z M518,607 C521,610 530,610.5 535,607" stroke-width="1.5"/>
<path d="M521,611.5 L520.5,615 M526,612.5 L526,615.5 M531,611.5 L531.5,614.5" stroke-width="1.6"/>
<!-- part 38 -->
<path d="M510,625 L518,626.5 L523,628 L531.5,630 L523,634.5 L519,635 L512,631 Z M518,626.5 L520,634.5 M514,627 L516,632" stroke-width="1.6"/>

</g>
<g style="mix-blend-mode:multiply"><rect x="283.2" y="95" width="34.4" height="8.9" fill="#fdfcb8"/>
<rect x="316.9" y="101.75" width="33.7" height="27.8" fill="#fdfcb8"/>
<rect x="539" y="104.8" width="35.6" height="28.1" fill="#fde8e8"/>
<rect x="269.75" y="248" width="34.4" height="28.5" fill="#fdfcb8"/>
<rect x="315" y="306" width="33.7" height="29.3" fill="#fdfcb8"/>
<rect x="199.9" y="334.5" width="33.7" height="28.5" fill="#fdfcb8"/>
<rect x="408.4" y="352" width="34.4" height="29.0" fill="#fdfcb8"/>
<rect x="448.3" y="281.2" width="35.1" height="30.3" fill="#fdfcb8"/>
<rect x="432.4" y="181" width="34.2" height="28.0" fill="#fdfcb8"/>
<rect x="466.6" y="192" width="24.4" height="27.5" fill="#fdfcb8"/>
<rect x="491" y="218.7" width="32.5" height="25.2" fill="#fdfcb8"/>
<rect x="523.5" y="238" width="35.0" height="26.0" fill="#fdfcb8"/>
<rect x="471.5" y="336.5" width="34.0" height="28.5" fill="#fdfcb8" stroke="#c84848" stroke-width="1.6"/>
<rect x="570" y="413" width="33.4" height="29.0" fill="#fdfcb8"/>
<rect x="557" y="460" width="33.5" height="29.5" fill="#fdfcb8"/>
<rect x="722" y="397.3" width="34.2" height="28.5" fill="#fdfcb8"/>
<rect x="679" y="485" width="34.0" height="26.0" fill="#fdfcb8"/>
<rect x="551" y="499" width="28.5" height="29.0" fill="#fde8e8"/>
<rect x="541.5" y="528" width="34.5" height="30.0" fill="#fdfcb8"/>
<rect x="539" y="558" width="27.0" height="31.4" fill="#fdfcb8"/>
<rect x="526.3" y="590.6" width="33.2" height="27.9" fill="#fde8e8"/>
<rect x="523.3" y="614.4" width="34.5" height="29.6" fill="#fdfcb8"/>
<rect x="371" y="587.3" width="34.0" height="29.3" fill="#fdfcb8"/>
<rect x="224.75" y="647" width="35.2" height="29.3" fill="#fdfcb8"/>
<rect x="93.5" y="451.75" width="34.0" height="28.2" fill="#fdfcb8"/>
<rect x="2.7" y="496.3" width="35.3" height="28.1" fill="#fdfcb8"/>
<rect x="40" y="517.2" width="34.3" height="27.2" fill="#fdfcb8"/>
<rect x="69.8" y="533.5" width="32.6" height="29.0" fill="#fdfcb8"/>
<rect x="105" y="544.4" width="34.6" height="27.2" fill="#fdfcb8"/>
<rect x="-2" y="562.5" width="23.6" height="28.1" fill="#fdfcb8"/>
<rect x="85.2" y="596" width="34.4" height="30.0" fill="#fdfcb8"/>
<rect x="-2" y="364" width="19.2" height="28.5" fill="#fde8e8"/></g>
<g><text transform="translate(345.6,126.75) scale(0.87,1)" fill="#736e3c" stroke="#736e3c" stroke-width="0.2" text-anchor="end">50</text>
<text transform="translate(570.2,129.25) scale(0.87,1)" fill="#2e1f2c" stroke="#2e1f2c" stroke-width="0.45" text-anchor="end">89</text>
<text transform="translate(300,273.5) scale(0.87,1)" fill="#736e3c" stroke="#736e3c" stroke-width="0.2" text-anchor="end">15</text>
<text transform="translate(344,331.7) scale(0.87,1)" fill="#736e3c" stroke="#736e3c" stroke-width="0.2" text-anchor="end">14</text>
<text transform="translate(228.7,359.7) scale(0.87,1)" fill="#736e3c" stroke="#736e3c" stroke-width="0.2" text-anchor="end">12</text>
<text transform="translate(438,375.4) scale(0.87,1)" fill="#736e3c" stroke="#736e3c" stroke-width="0.2" text-anchor="end">20</text>
<text transform="translate(479.3,306) scale(0.87,1)" fill="#736e3c" stroke="#736e3c" stroke-width="0.2" text-anchor="end">23</text>
<text transform="translate(462.5,204.8) scale(0.87,1)" fill="#736e3c" stroke="#736e3c" stroke-width="0.2" text-anchor="end">50</text>
<text transform="translate(486,217.8) scale(0.87,1)" fill="#736e3c" stroke="#736e3c" stroke-width="0.2" text-anchor="end">77</text>
<text transform="translate(519,243) scale(0.87,1)" fill="#736e3c" stroke="#736e3c" stroke-width="0.2" text-anchor="end">74</text>
<text transform="translate(553,261.7) scale(0.87,1)" fill="#736e3c" stroke="#736e3c" stroke-width="0.2" text-anchor="end">77</text>
<text transform="translate(500.5,361) scale(0.87,1)" fill="#736e3c" stroke="#736e3c" stroke-width="0.2" text-anchor="end">42</text>
<text transform="translate(598,438.8) scale(0.87,1)" fill="#736e3c" stroke="#736e3c" stroke-width="0.2" text-anchor="end">41</text>
<text transform="translate(586,485) scale(0.87,1)" fill="#736e3c" stroke="#736e3c" stroke-width="0.2" text-anchor="end">26</text>
<text transform="translate(750.5,421) scale(0.87,1)" fill="#736e3c" stroke="#736e3c" stroke-width="0.2" text-anchor="end">23</text>
<text transform="translate(707.4,509.5) scale(0.87,1)" fill="#736e3c" stroke="#736e3c" stroke-width="0.2" text-anchor="end">17</text>
<text transform="translate(577,524) scale(0.87,1)" fill="#2e1f2c" stroke="#2e1f2c" stroke-width="0.45" text-anchor="end">27</text>
<text transform="translate(571,553.5) scale(0.87,1)" fill="#736e3c" stroke="#736e3c" stroke-width="0.2" text-anchor="end">29</text>
<text transform="translate(562,584.7) scale(0.87,1)" fill="#736e3c" stroke="#736e3c" stroke-width="0.2" text-anchor="end">32</text>
<text transform="translate(556,616.75) scale(0.87,1)" fill="#2e1f2c" stroke="#2e1f2c" stroke-width="0.45" text-anchor="end">35</text>
<text transform="translate(553.6,640.5) scale(0.87,1)" fill="#736e3c" stroke="#736e3c" stroke-width="0.2" text-anchor="end">38</text>
<text transform="translate(395.5,613) scale(0.87,1)" fill="#736e3c" stroke="#736e3c" stroke-width="0.2" text-anchor="end">5</text>
<text transform="translate(249,675) scale(0.87,1)" fill="#736e3c" stroke="#736e3c" stroke-width="0.2" text-anchor="end">8</text>
<text transform="translate(122,475) scale(0.87,1)" fill="#736e3c" stroke="#736e3c" stroke-width="0.2" text-anchor="end">11</text>
<text transform="translate(34,519) scale(0.87,1)" fill="#736e3c" stroke="#736e3c" stroke-width="0.2" text-anchor="end">62</text>
<text transform="translate(70,539.8) scale(0.87,1)" fill="#736e3c" stroke="#736e3c" stroke-width="0.2" text-anchor="end">68</text>
<text transform="translate(99,557) scale(0.87,1)" fill="#736e3c" stroke="#736e3c" stroke-width="0.2" text-anchor="end">53</text>
<text transform="translate(136,567) scale(0.87,1)" fill="#736e3c" stroke="#736e3c" stroke-width="0.2" text-anchor="end">71</text>
<text transform="translate(18,585.2) scale(0.87,1)" fill="#736e3c" stroke="#736e3c" stroke-width="0.2" text-anchor="end">56</text>
<text transform="translate(116,621.4) scale(0.87,1)" fill="#736e3c" stroke="#736e3c" stroke-width="0.2" text-anchor="end">65</text>
<text transform="translate(13.9,388) scale(0.87,1)" fill="#2e1f2c" stroke="#2e1f2c" stroke-width="0.45" text-anchor="end">33</text></g>
<g><line x1="436.5" y1="489.5" x2="502.4" y2="538.3" stroke="#e01515" stroke-width="3.2" stroke-linecap="round"/><polygon points="514.5,547.25 497.3,542.0 504.4,532.3" fill="#e01515"/>
<line x1="435" y1="557.75" x2="492.3" y2="569.1" stroke="#e01515" stroke-width="3.2" stroke-linecap="round"/><polygon points="507,572 489.2,574.6 491.5,562.8" fill="#e01515"/>
<line x1="693" y1="545.2" x2="581.9" y2="558.7" stroke="#e01515" stroke-width="3.2" stroke-linecap="round"/><polygon points="567,560.5 583.2,552.5 584.6,564.4" fill="#e01515"/>
<line x1="678.4" y1="624.6" x2="586.7" y2="590.5" stroke="#e01515" stroke-width="3.2" stroke-linecap="round"/><polygon points="572.6,585.3 590.6,585.6 586.4,596.8" fill="#e01515"/>
<line x1="645.75" y1="677.5" x2="573.7" y2="613.2" stroke="#e01515" stroke-width="3.2" stroke-linecap="round"/><polygon points="562.5,603.25 579.2,610.1 571.2,619.0" fill="#e01515"/></g>
<rect x="0" y="0" width="800" height="97.8" fill="#fff"/>
<rect x="0" y="697.5" width="800" height="2.5" fill="#ececee"/>
<rect x="797.8" y="98" width="2.2" height="584" fill="#5c5c74"/>
<g font-size="16" fill="#000">
<rect x="106.6" y="129.4" width="52.2" height="18" fill="#fff" stroke="#2a2a2a" stroke-width="1.3"/>
<text x="132.6" y="145.1" text-anchor="middle" style="font-size:16.6px" fill="#101018" stroke="#101018" stroke-width="0.35">54 245</text>
<rect x="103.9" y="190.8" width="52" height="17.4" fill="#fff" stroke="#2a2a2a" stroke-width="1.3"/>
<text x="130.1" y="205.4" text-anchor="middle" style="font-size:16.6px" fill="#101018" stroke="#101018" stroke-width="0.35">54 427</text>
</g>
</svg>
</body></html>
